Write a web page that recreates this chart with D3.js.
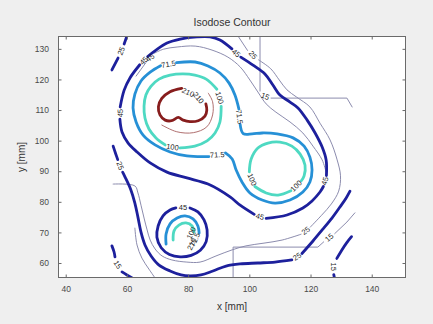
<!DOCTYPE html>
<html>
<head>
<meta charset="utf-8">
<script src="https://cdn.jsdelivr.net/npm/d3@7"></script>
<style>
  body { margin: 0; background: #efefef; }
  svg { display: block; }
</style>
</head>
<body>
<div id="chart"></div>
<script>
// isodose lines, points are [x mm, y mm],
// one array per unbroken piece (breaks are where the labels sit)
const dose210 = [
  [[77.9,117.1],[74.1,116.0],[71.4,113.8],[70.3,111.1],[70.8,108.4],[72.5,106.7],[74.6,106.5],[76.8,107.6],[78.4,106.7],[80.6,106.2],[83.3,106.5],[85.5,108.0],[86.1,110.0],[85.8,112.0]]
];
const dose210Thin = [
  [[71.4,105.1],[76.3,102.9],[81.7,102.6],[86.1,104.5],[88.0,108.4],[88.0,112.7],[86.6,115.5]]
];
const dose100 = [
  [[89.4,116.8],[85.9,120.1],[82.2,121.4],[78.3,121.8],[74.1,121.4],[70.5,120.1],[67.9,117.8],[66.2,114.9],[65.6,111.3],[65.9,107.4],[67.2,103.8],[69.5,100.9],[72.5,98.6]],
  [[77.4,97.6],[82.2,98.2],[86.2,99.9],[88.8,102.5],[90.4,106.1],[90.8,111.2]],
  [[100.0,89.8],[100.6,94.0],[102.8,97.6],[106.1,99.2],[110.0,99.5],[113.9,98.2],[116.6,95.6],[118.2,92.0],[117.9,88.5],[117.0,86.9]],
  [[113.6,83.6],[109.4,82.2],[105.5,82.9],[101.8,85.0]],
  [[75.1,67.5],[75.4,70.5],[77.0,72.4],[79.3,73.1],[81.3,72.1],[81.9,70.1]]
];
const dose71 = [
  [[76.2,125.5],[82.3,125.7],[86.5,124.4],[90.4,122.1],[93.4,118.8],[95.3,114.9],[96.6,110.3]],
  [[97.0,105.3],[98.0,102.3],[100.9,102.2],[104.2,102.5],[109.1,102.2],[114.3,100.9],[117.9,98.2],[119.8,94.6],[120.5,90.4],[119.8,86.5],[117.5,83.2],[113.3,80.6],[108.4,79.6],[104.2,80.6],[100.2,82.9],[97.6,86.5],[95.7,90.4],[94.4,94.0],[92.2,96.0]],
  [[86.8,94.8],[79.6,95.0],[74.1,96.3],[69.2,98.6],[65.3,101.8],[63.0,106.1],[62.0,110.7],[62.6,115.2],[64.6,119.5],[67.6,122.4],[71.0,124.5]],
  [[72.8,66.2],[72.8,69.5],[74.1,72.8],[76.4,74.7],[79.0,75.4],[81.6,74.4],[83.2,72.1],[83.6,69.8]]
];
const dose45 = [
  [[66.8,127.5],[69.5,129.6],[73.1,131.9],[77.4,133.2],[82.9,133.9],[87.2,133.9],[90.4,132.9],[94.3,130.0]],
  [[97.2,127.3],[101.2,124.7],[105.1,121.8],[107.7,118.2],[110.0,114.9],[113.3,112.6],[115.9,110.7],[118.9,106.7],[121.5,102.5],[123.8,97.9],[125.1,93.7],[125.2,88.6]],
  [[124.2,85.0],[123.1,83.2],[120.5,80.3],[117.5,78.0],[112.3,75.7],[105.5,74.6]],
  [[101.6,75.9],[97.0,78.9],[93.7,81.6],[86.5,85.8],[79.6,87.8],[73.1,89.7],[67.6,92.7],[63.3,96.3],[60.4,99.2],[58.4,102.8],[57.7,107.0]],
  [[57.8,111.0],[59.1,116.5],[61.0,120.5],[64.2,124.8]],
  [[80.6,78.0],[83.2,76.7],[85.2,74.1],[86.2,70.8],[85.9,67.0],[84.0,64.2],[81.0,62.5],[77.4,62.0],[73.9,62.8],[71.2,65.0],[69.8,68.4],[70.2,72.1],[71.8,75.4],[74.1,77.3],[76.0,78.0]]
];
const dose25 = [
  [[55.5,98.2],[56.3,95.8],[57.0,93.8]],
  [[58.6,89.7],[59.4,88.1],[61.3,83.9],[62.6,79.6],[63.6,75.0],[64.6,70.1],[65.9,65.9],[67.9,62.3],[70.5,59.3],[74.1,57.4],[77.7,56.1],[80.6,55.8],[84.2,56.1],[88.1,57.4],[92.4,59.0],[97.0,59.7],[102.8,60.0],[108.4,60.3],[113.9,61.0]],
  [[117.2,63.1],[120.8,67.2],[123.8,70.8],[127.0,74.7],[129.6,78.3],[131.6,81.2],[132.9,83.5]],
  [[55.1,123.1],[57.1,127.0]],
  [[59.1,131.6],[60.0,134.2]]
];
const dose15 = [
  [[55.1,65.6],[55.8,63.6],[56.1,62.0]],
  [[58.4,57.1],[60.0,56.1],[61.7,55.1]],
  [[128.6,61.5],[130.2,64.2],[131.8,66.6],[133.4,68.6]],
  [[127.6,56.2],[127.8,55.2]]
];

// second (thin) set of lines
const thin45 = [
  [[63.0,121.1],[66.2,125.5]],
  [[69.0,128.6],[72.0,129.9],[76.4,130.6],[82.3,130.9],[87.8,129.6],[93.0,127.3],[97.0,124.1],[100.2,119.8],[102.8,115.9],[105.5,112.0],[108.7,109.3],[113.3,106.1],[117.5,102.5],[120.8,98.2],[123.8,93.7],[125.1,89.7]]
];
const thin25 = [
  [[96.3,134.2],[99.4,129.5]],
  [[103.0,126.4],[107.0,123.5],[109.8,119.8],[112.3,116.6],[115.5,114.2],[119.8,111.0],[123.1,105.7],[126.4,100.2],[128.7,93.7],[129.8,88.5],[129.2,83.5],[126.8,79.3],[123.6,75.6],[119.9,71.7]],
  [[116.9,69.4],[110.7,67.5],[104.8,66.5],[98.9,65.6],[94.4,64.3],[89.1,62.3],[83.9,60.3],[79.6,60.3],[74.7,61.0],[71.5,62.3],[69.2,64.6],[67.6,67.5],[66.6,70.8],[65.6,74.7],[64.6,78.9],[63.6,82.9],[62.6,85.2],[55.5,85.8]],
  [[62.6,71.4],[63.3,65.9],[64.9,61.6],[67.2,58.0],[69.2,55.1]]
];
const thin15 = [
  [[103.5,134.2],[103.5,116.2]],
  [[107.1,113.9],[131.9,113.9],[133.6,111.0]],
  [[134.5,76.4],[131.9,73.4],[127.9,69.6]],
  [[124.3,66.9],[122.4,65.2],[94.7,65.2],[94.7,55.1]]
];

// inline labels: text, position in mm, angle in degrees
const contourLabels = [
  {t:"45", x:95.7, y:128.6, r:41},
  {t:"45", x:124.7, y:86.8, r:-75},
  {t:"45", x:103.5, y:75.2, r:15},
  {t:"45", x:57.8, y:109.0, r:-88},
  {t:"45", x:65.5, y:126.1, r:-45},
  {t:"45", x:78.3, y:78.2, r:0},
  {t:"25", x:57.8, y:91.8, r:68},
  {t:"25", x:115.6, y:62.1, r:-33},
  {t:"25", x:58.1, y:129.3, r:-67},
  {t:"15", x:57.0, y:59.5, r:58},
  {t:"15", x:127.6, y:58.8, r:90},
  {t:"71.5", x:73.6, y:125.0, r:-10},
  {t:"71.5", x:96.8, y:107.8, r:82},
  {t:"71.5", x:89.5, y:95.4, r:-3},
  {t:"100", x:90.3, y:114.0, r:72},
  {t:"100", x:74.9, y:97.9, r:8},
  {t:"100", x:115.3, y:85.2, r:-45},
  {t:"100", x:100.9, y:87.3, r:67},
  {t:"210", x:80.0, y:115.8, r:25},
  {t:"210", x:83.4, y:114.0, r:50},
  {t:"100", x:81.0, y:69.8, r:-65},
  {t:"71.5", x:82.2, y:67.6, r:-65},
  {t:"210", x:81.2, y:66.2, r:-65},
  {t:"45", x:67.6, y:127.1, r:-35},
  {t:"25", x:101.2, y:128.0, r:50},
  {t:"25", x:118.4, y:70.6, r:-37},
  {t:"15", x:105.2, y:114.5, r:20},
  {t:"15", x:126.1, y:68.3, r:-42}
];

const xTicks = [40, 60, 80, 100, 120, 140];
const yTicks = [60, 70, 80, 90, 100, 110, 120, 130];

const width = 433, height = 324;
const plot = {left: 58, top: 36, right: 406, bottom: 278};
const font = "'Liberation Sans', Arial, sans-serif";

const svg = d3.select("#chart").append("svg")
  .attr("width", width)
  .attr("height", height);

svg.append("rect").attr("width", width).attr("height", height).attr("fill", "#efefef");

const x = d3.scaleLinear().domain([37.48, 151.2]).range([plot.left, plot.right]);
const y = d3.scaleLinear().domain([55.1, 134.2]).range([plot.bottom, plot.top]);

svg.append("rect")
  .attr("x", plot.left).attr("y", plot.top)
  .attr("width", plot.right - plot.left).attr("height", plot.bottom - plot.top)
  .attr("fill", "#fff");

svg.append("clipPath").attr("id", "clip")
  .append("rect")
  .attr("x", plot.left).attr("y", plot.top)
  .attr("width", plot.right - plot.left).attr("height", plot.bottom - plot.top);

const smooth = d3.line().x(d => x(d[0])).y(d => y(d[1])).curve(d3.curveCatmullRom.alpha(0.5));
const straight = d3.line().x(d => x(d[0])).y(d => y(d[1]));

// thin ones under the thick ones
const layers = [
  {segs: thin25, color: "#8c8cae", w: 1, line: smooth},
  {segs: thin45, color: "#8c8cae", w: 1, line: smooth},
  {segs: thin15, color: "#8c8cae", w: 1, line: straight},
  {segs: dose210Thin, color: "#b06f6f", w: 1, line: smooth},
  {segs: dose15, color: "#1d209c", w: 2.8, line: smooth},
  {segs: dose25, color: "#1d209c", w: 2.8, line: smooth},
  {segs: dose45, color: "#1d209c", w: 2.8, line: smooth},
  {segs: dose71, color: "#2690d6", w: 2.8, line: smooth},
  {segs: dose100, color: "#4ed9c2", w: 2.8, line: smooth},
  {segs: dose210, color: "#871d1d", w: 2.8, line: smooth}
];

const g = svg.append("g").attr("clip-path", "url(#clip)");

layers.forEach(layer => {
  g.append("g")
    .selectAll("path")
    .data(layer.segs)
    .join("path")
    .attr("d", layer.line)
    .attr("fill", "none")
    .attr("stroke", layer.color)
    .attr("stroke-width", layer.w)
    .attr("stroke-linejoin", "round")
    .attr("stroke-linecap", "round");
});

g.append("g")
  .selectAll("text")
  .data(contourLabels)
  .join("text")
  .attr("transform", d => "translate(" + x(d.x) + "," + y(d.y) + ") rotate(" + d.r + ")")
  .attr("text-anchor", "middle")
  .attr("dy", "0.35em")
  .attr("font-family", font)
  .attr("font-size", 7.5)
  .attr("fill", "#262626")
  .text(d => d.t);

// axes, ticks pointing inward on all four sides
function styleAxis(sel) {
  sel.select(".domain").remove();
  sel.selectAll("line").attr("stroke", "#6a6a6a");
  sel.selectAll("text")
    .attr("font-family", font)
    .attr("font-size", 8.5)
    .attr("fill", "#4a4a4a");
}

svg.append("g")
  .attr("transform", "translate(0," + plot.bottom + ")")
  .call(d3.axisBottom(x).tickValues(xTicks).tickSizeInner(-3.5).tickSizeOuter(0).tickPadding(8))
  .call(styleAxis);

svg.append("g")
  .attr("transform", "translate(0," + plot.top + ")")
  .call(d3.axisTop(x).tickValues(xTicks).tickSizeInner(-3.5).tickSizeOuter(0).tickFormat(""))
  .call(styleAxis);

svg.append("g")
  .attr("transform", "translate(" + plot.left + ",0)")
  .call(d3.axisLeft(y).tickValues(yTicks).tickSizeInner(-3.5).tickSizeOuter(0).tickPadding(9))
  .call(styleAxis);

svg.append("g")
  .attr("transform", "translate(" + plot.right + ",0)")
  .call(d3.axisRight(y).tickValues(yTicks).tickSizeInner(-3.5).tickSizeOuter(0).tickFormat(""))
  .call(styleAxis);

svg.append("rect")
  .attr("x", plot.left + 0.5).attr("y", plot.top + 0.5)
  .attr("width", plot.right - plot.left - 1).attr("height", plot.bottom - plot.top - 1)
  .attr("fill", "none")
  .attr("stroke", "#6a6a6a");

svg.append("text")
  .attr("x", (plot.left + plot.right) / 2)
  .attr("y", 26)
  .attr("text-anchor", "middle")
  .attr("font-family", font)
  .attr("font-size", 10.5)
  .attr("fill", "#333")
  .text("Isodose Contour");

svg.append("text")
  .attr("x", (plot.left + plot.right) / 2)
  .attr("y", 310)
  .attr("text-anchor", "middle")
  .attr("font-family", font)
  .attr("font-size", 10)
  .attr("fill", "#333")
  .text("x [mm]");

svg.append("text")
  .attr("transform", "translate(25," + (plot.top + plot.bottom) / 2 + ") rotate(-90)")
  .attr("text-anchor", "middle")
  .attr("font-family", font)
  .attr("font-size", 10)
  .attr("fill", "#333")
  .text("y [mm]");
</script>
</body>
</html>
